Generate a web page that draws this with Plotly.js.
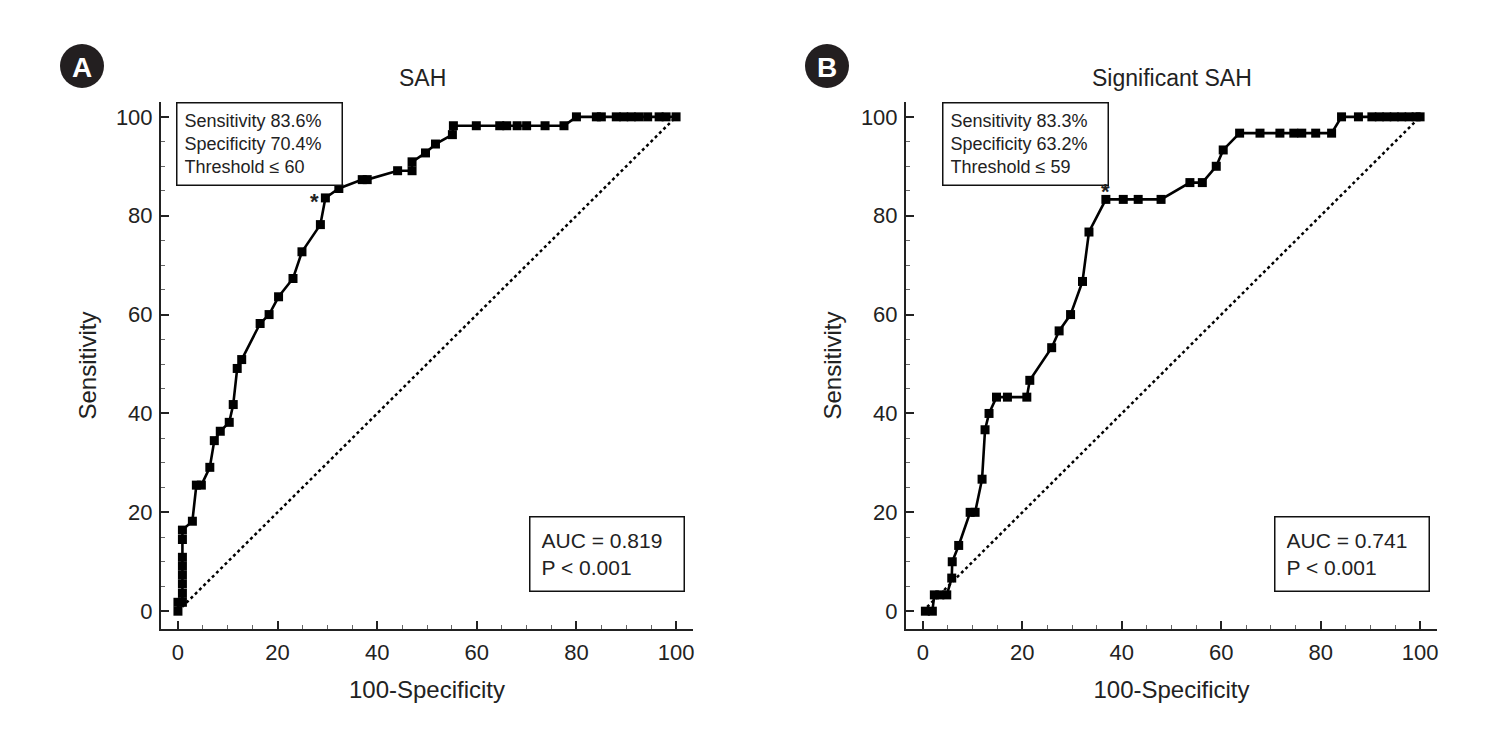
<!DOCTYPE html>
<html>
<head>
<meta charset="utf-8">
<script src="https://cdn.plot.ly/plotly-3.0.1.min.js"></script>
<style>
  html, body { margin: 0; padding: 0; background: #fff; }
  #rocPlot { width: 1500px; height: 736px; }
</style>
</head>
<body>
<div id="rocPlot"></div>
<script>
// panel A - SAH
const sahX = [0, 0, 0.9, 0.9, 0.9, 0.9, 0.9, 0.9, 0.9, 0.9, 2.9, 3.7, 4.7, 6.4, 7.3, 8.5, 10.3, 11.1, 11.9, 12.8,
  16.5, 18.3, 20.2, 23.1, 24.9, 28.6, 29.6, 32.3, 37, 38, 44.1, 47, 47, 49.7, 51.7, 55.1, 55.3, 59.9, 64.6, 66,
  68.1, 70, 73.7, 77.5, 80, 84, 85, 88, 89.5, 91, 92.5, 94.3, 96.6, 98, 100];
const sahY = [0, 1.8, 1.8, 3.6, 5.5, 7.3, 9.1, 10.9, 14.5, 16.4, 18.2, 25.5, 25.5, 29.1, 34.5, 36.4, 38.2, 41.8, 49.1, 50.9,
  58.2, 60, 63.6, 67.3, 72.7, 78.2, 83.6, 85.5, 87.3, 87.3, 89.1, 89.1, 90.9, 92.7, 94.5, 96.4, 98.2, 98.2, 98.2, 98.2,
  98.2, 98.2, 98.2, 98.2, 100, 100, 100, 100, 100, 100, 100, 100, 100, 100, 100];

// panel B - Significant SAH
const sigX = [0.5, 1.9, 2.3, 3.4, 4.8, 5.8, 5.9, 7.2, 9.5, 10.5, 11.9, 12.5, 13.3, 14.8, 17, 20.9, 21.5, 25.9, 27.4, 29.7,
  32.1, 33.4, 36.8, 40.3, 43.3, 47.9, 53.7, 56.2, 59, 60.4, 63.7, 67.8, 71.8, 74.6, 76.2, 79, 82.2, 84.2, 87.6, 90.3,
  91.8, 93.3, 94.8, 96.3, 97.8, 99.2, 100];
const sigY = [0, 0, 3.3, 3.3, 3.3, 6.7, 10, 13.3, 20, 20, 26.7, 36.7, 40, 43.3, 43.3, 43.3, 46.7, 53.3, 56.7, 60,
  66.7, 76.7, 83.3, 83.3, 83.3, 83.3, 86.7, 86.7, 90, 93.3, 96.7, 96.7, 96.7, 96.7, 96.7, 96.7, 96.7, 100, 100, 100,
  100, 100, 100, 100, 100, 100, 100];

const refLine = [0, 100];

// cut-off points (marked with *)
const cutA = [29.6, 83.6];
const cutB = [36.8, 83.3];

const infoA = 'Sensitivity 83.6%<br>Specificity 70.4%<br>Threshold ≤ 60';
const infoB = 'Sensitivity 83.3%<br>Specificity 63.2%<br>Threshold ≤ 59';
const aucA = 'AUC = 0.819<br>P < 0.001';
const aucB = 'AUC = 0.741<br>P < 0.001';

const fontFam = 'Liberation Sans, Arial, sans-serif';
const ink = '#222';

function rocTrace(x, y, xa, ya) {
  return {
    x: x, y: y, xaxis: xa, yaxis: ya, mode: 'lines+markers', type: 'scatter',
    line: { color: '#000', width: 2.6 },
    marker: { symbol: 'square', size: 9, color: '#000' },
    hoverinfo: 'skip'
  };
}
function diagTrace(xa, ya) {
  return {
    x: refLine, y: refLine, xaxis: xa, yaxis: ya, mode: 'lines', type: 'scatter',
    line: { color: '#000', width: 2.5, dash: 'dot' }, hoverinfo: 'skip'
  };
}

const data = [
  diagTrace('x', 'y'), rocTrace(sahX, sahY, 'x', 'y'),
  diagTrace('x2', 'y2'), rocTrace(sigX, sigY, 'x2', 'y2')
];

function xAxis(dom, anchor) {
  return {
    domain: dom, anchor: anchor, range: [-3.4, 103.4],
    showgrid: false, zeroline: false, showline: true, linecolor: ink, linewidth: 2,
    ticks: 'inside', ticklen: 8, tickwidth: 2, tickcolor: ink, dtick: 20, tick0: 0,
    minor: { ticks: 'inside', ticklen: 4, tickwidth: 1, tickcolor: '#666', dtick: 5, tick0: 0 },
    tickfont: { family: fontFam, size: 22, color: ink },
    ticklabelstandoff: 3,
    title: { text: '100-Specificity', font: { family: fontFam, size: 24, color: ink }, standoff: 17 }
  };
}
function yAxis(anchor) {
  return {
    domain: [0.1454, 0.8614], anchor: anchor, range: [-3.6, 103],
    showgrid: false, zeroline: false, showline: true, linecolor: ink, linewidth: 2,
    ticks: 'inside', ticklen: 8, tickwidth: 2, tickcolor: ink, dtick: 20, tick0: 0,
    minor: { ticks: 'inside', ticklen: 4, tickwidth: 1, tickcolor: '#666', dtick: 5, tick0: 0 },
    tickfont: { family: fontFam, size: 22, color: ink },
    ticklabelstandoff: 2,
    title: { text: 'Sensitivity', font: { family: fontFam, size: 24, color: ink }, standoff: 12 }
  };
}

function boxNote(text, xr, yr, x, y, xanchor, yanchor, size, pad, w, h) {
  return {
    text: text, xref: xr, yref: yr, x: x, y: y, xanchor: xanchor, yanchor: yanchor,
    width: w, height: h, valign: 'middle',
    showarrow: false, align: 'left', bgcolor: '#fff', bordercolor: '#111', borderwidth: 1.5,
    borderpad: pad, font: { family: fontFam, size: size, color: ink }
  };
}

const annotations = [
  { text: 'SAH', xref: 'x', yref: 'paper', x: 49, y: 1 - 78 / 736, yanchor: 'middle', showarrow: false,
    font: { family: fontFam, size: 23, color: ink } },
  { text: 'Significant SAH', xref: 'x2', yref: 'paper', x: 50, y: 1 - 78 / 736, yanchor: 'middle', showarrow: false,
    font: { family: fontFam, size: 23, color: ink } },
  boxNote(infoA, 'x', 'y', -0.3, 103, 'left', 'top', 18, 7, 150, 67),
  boxNote(infoB, 'x2', 'y2', 3.8, 103, 'left', 'top', 18, 7, 150, 67),
  boxNote(aucA, 'x', 'y', 101.8, 3.8, 'right', 'bottom', 21, 11, 131, 51),
  boxNote(aucB, 'x2', 'y2', 102, 3.8, 'right', 'bottom', 21, 11, 131, 51),
  { text: '<b>*</b>', xref: 'x', yref: 'y', x: cutA[0], y: cutA[1], xshift: -11, yshift: -4, showarrow: false,
    font: { family: fontFam, size: 22, color: ink } },
  { text: '<b>*</b>', xref: 'x2', yref: 'y2', x: cutB[0], y: cutB[1], yshift: 8, showarrow: false,
    font: { family: fontFam, size: 22, color: ink } },
  { text: '<b>A</b>', xref: 'paper', yref: 'paper', x: 82 / 1500, y: 1 - 67 / 736, xanchor: 'center', yanchor: 'middle',
    showarrow: false, font: { family: fontFam, size: 28, color: '#fff' } },
  { text: '<b>B</b>', xref: 'paper', yref: 'paper', x: 827 / 1500, y: 1 - 67 / 736, xanchor: 'center', yanchor: 'middle',
    showarrow: false, font: { family: fontFam, size: 28, color: '#fff' } }
];

const shapes = [
  { type: 'circle', xref: 'paper', yref: 'paper', x0: 60 / 1500, x1: 104 / 1500, layer: 'below',
    y0: 1 - 88 / 736, y1: 1 - 44 / 736, fillcolor: '#231f20', line: { width: 0 } },
  { type: 'circle', xref: 'paper', yref: 'paper', x0: 805 / 1500, x1: 849 / 1500, layer: 'below',
    y0: 1 - 88 / 736, y1: 1 - 44 / 736, fillcolor: '#231f20', line: { width: 0 } }
];

const layout = {
  width: 1500, height: 736,
  margin: { l: 0, r: 0, t: 0, b: 0 },
  paper_bgcolor: '#fff', plot_bgcolor: 'rgba(0,0,0,0)',
  showlegend: false,
  font: { family: fontFam, color: ink },
  xaxis: xAxis([161 / 1500, 693 / 1500], 'y'),
  yaxis: yAxis('x'),
  xaxis2: xAxis([906 / 1500, 1437 / 1500], 'y2'),
  yaxis2: yAxis('x2'),
  annotations: annotations,
  shapes: shapes
};

Plotly.newPlot('rocPlot', data, layout, { staticPlot: true });
</script>
</body>
</html>
